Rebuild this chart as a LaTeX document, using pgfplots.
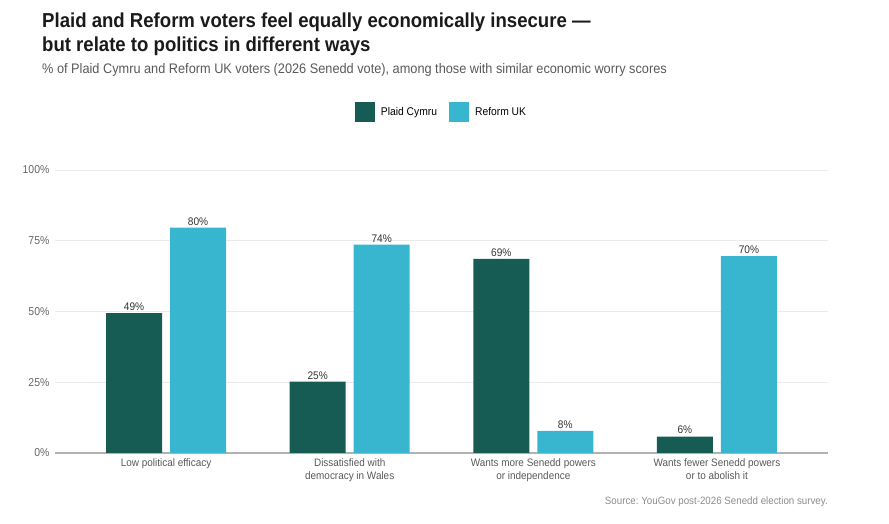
\documentclass[border=0pt]{standalone}
\usepackage{pgfplots}
\pgfplotsset{compat=1.18}
\usepackage{fontspec}
\setmainfont{Liberation Sans}[FakeStretch=0.92]
\definecolor{plaid}{HTML}{165C55}
\definecolor{reform}{HTML}{38B6D0}
\definecolor{titlec}{HTML}{1A1A1A}
\definecolor{subc}{HTML}{595959}
\definecolor{tickc}{HTML}{666666}
\definecolor{valc}{HTML}{333333}
\definecolor{gridc}{HTML}{EBEBEB}
\definecolor{srcc}{HTML}{8C8C8C}
\begin{document}
\frenchspacing
\begin{tikzpicture}[x=1pt,y=1pt]
\useasboundingbox (0,0) rectangle (889,524);
\node[anchor=base west, font=\fontsize{20.2}{24}\selectfont\bfseries, text=titlec, inner sep=0pt] at (42,496) {Plaid and Reform voters feel equally economically insecure —};
\node[anchor=base west, font=\fontsize{20.2}{24}\selectfont\bfseries, text=titlec, inner sep=0pt] at (42,472) {but relate to politics in different ways};
\node[anchor=base west, font=\fontsize{13.85}{15}\selectfont, text=subc, inner sep=0pt] at (42,450) {\% of Plaid Cymru and Reform UK voters (2026 Senedd vote), among those with similar economic worry scores};
\node[anchor=base east, font=\fontsize{10.6}{12}\selectfont, text=srcc, inner sep=0pt] at (828,19) {Source: YouGov post-2026 Senedd election survey.};
\begin{axis}[
  at={(55pt,71pt)}, anchor=south west,
  scale only axis, width=773pt, height=283pt,
  xmin=-0.605, xmax=3.605, ymin=0, ymax=100,
  axis x line*=bottom, axis y line*=left,
  x axis line style={draw=black!30, line width=1.2pt},
  y axis line style={draw=none},
  major tick length=0pt,
  ytick={0,25,50,75,100},
  yticklabel={\pgfmathprintnumber{\tick}\%},
  /pgf/number format/assume math mode=true,
  yticklabel style={font=\fontsize{11.4}{13}\selectfont, text=tickc, xshift=-2pt},
  ymajorgrids, grid style={gridc, line width=0.8pt},
  xtick={0,1,2,3},
  xticklabels={{Low political efficacy},{Dissatisfied with\\democracy in Wales},{Wants more Senedd powers\\or independence},{Wants fewer Senedd powers\\or to abolish it}},
  xticklabel style={font=\fontsize{10.8}{13}\selectfont, text=subc, align=center, yshift=-2.5pt},
  ybar, bar width=56pt,
  nodes near coords={\pgfmathprintnumber[fixed,precision=0]{\pgfplotspointmeta}\%},
  nodes near coords style={font=\fontsize{11}{13}\selectfont, text=valc, yshift=-1pt},
  legend columns=2,
  legend style={at={(0.5,1.205)}, anchor=center, draw=none, fill=none,
    font=\fontsize{11.2}{14}\selectfont, column sep=4pt,
    /tikz/every even column/.append style={column sep=10pt}},
  legend image code/.code={\fill[#1] (0pt,-10pt) rectangle (20pt,10pt);},
  clip=false,
]
\addplot[fill=plaid, draw=none, bar shift=-32pt] coordinates {(0,49.4) (1,25.2) (2,68.6) (3,5.8)};
\addplot[fill=reform, draw=none, bar shift=32pt] coordinates {(0,79.6) (1,73.6) (2,7.8) (3,69.6)};
\legend{Plaid Cymru, Reform UK}
\end{axis}
\end{tikzpicture}
\end{document}
